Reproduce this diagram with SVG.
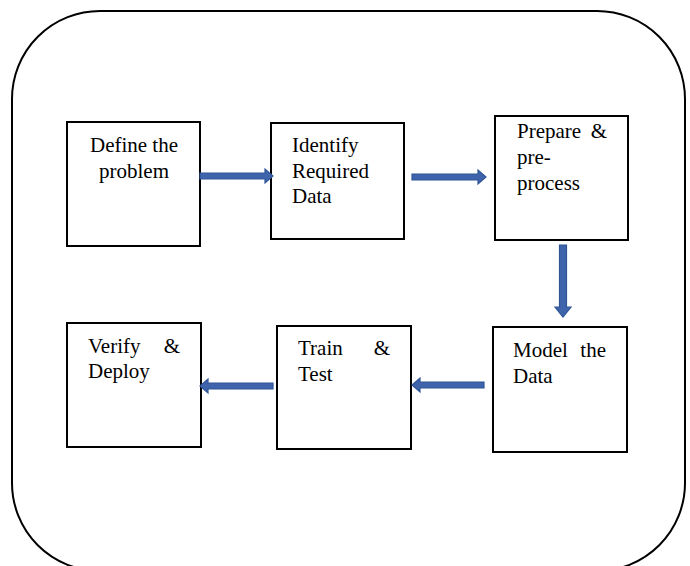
<svg xmlns="http://www.w3.org/2000/svg" width="690" height="566" viewBox="0 0 690 566">
  <style>
    .frame { fill: #ffffff; stroke: #000000; stroke-width: 2; }
    .box { fill: #ffffff; stroke: #000000; stroke-width: 2; }
    .lbl { font-family: "Liberation Serif", "Times New Roman", serif; font-size: 21px; fill: #000000; }
    .arrow { fill: #3F64AC; stroke: #2F5597; stroke-width: 1.2; stroke-linejoin: miter; }
  </style>

  <!-- outer rounded frame -->
  <rect class="frame" x="12" y="11" width="673" height="560" rx="88" ry="88"/>

  <!-- process steps -->
  <g id="define">
    <rect class="box" x="67" y="122" width="133" height="124"/>
    <text class="lbl" x="134" y="152" text-anchor="middle">Define the</text>
    <text class="lbl" x="134" y="178" text-anchor="middle">problem</text>
  </g>

  <g id="identify">
    <rect class="box" x="271" y="123" width="133" height="116"/>
    <text class="lbl" x="292" y="152">Identify</text>
    <text class="lbl" x="292" y="178">Required</text>
    <text class="lbl" x="292" y="203">Data</text>
  </g>

  <g id="prepare">
    <rect class="box" x="495" y="116" width="133" height="124"/>
    <text class="lbl" x="517" y="138">Prepare</text>
    <text class="lbl" x="607" y="138" text-anchor="end">&amp;</text>
    <text class="lbl" x="517" y="164">pre-</text>
    <text class="lbl" x="517" y="190">process</text>
  </g>

  <g id="model">
    <rect class="box" x="493" y="327" width="134" height="125"/>
    <text class="lbl" x="513" y="357">Model</text>
    <text class="lbl" x="606" y="357" text-anchor="end">the</text>
    <text class="lbl" x="513" y="383">Data</text>
  </g>

  <g id="train">
    <rect class="box" x="277" y="326" width="134" height="123"/>
    <text class="lbl" x="298" y="355">Train</text>
    <text class="lbl" x="390" y="355" text-anchor="end">&amp;</text>
    <text class="lbl" x="298" y="381">Test</text>
  </g>

  <g id="verify">
    <rect class="box" x="67" y="323" width="134" height="124"/>
    <text class="lbl" x="88" y="353">Verify</text>
    <text class="lbl" x="180" y="353" text-anchor="end">&amp;</text>
    <text class="lbl" x="88" y="378">Deploy</text>
  </g>

  <!-- block arrows between steps -->
  <g id="connectors">
    <polygon class="arrow" points="200,173 265,173 265,169 273,176 265,183 265,179 200,179"/>
    <polygon class="arrow" points="412,174 478,174 478,170 486,177 478,184 478,180 412,180"/>
    <polygon class="arrow" points="559.5,245 566.5,245 566.5,307 571,307 563,317 555,307 559.5,307"/>
    <polygon class="arrow" points="484,382 420,382 420,378 412,385 420,392 420,388 484,388"/>
    <polygon class="arrow" points="273,383 208,383 208,379 200,386 208,393 208,389 273,389"/>
  </g>
</svg>
